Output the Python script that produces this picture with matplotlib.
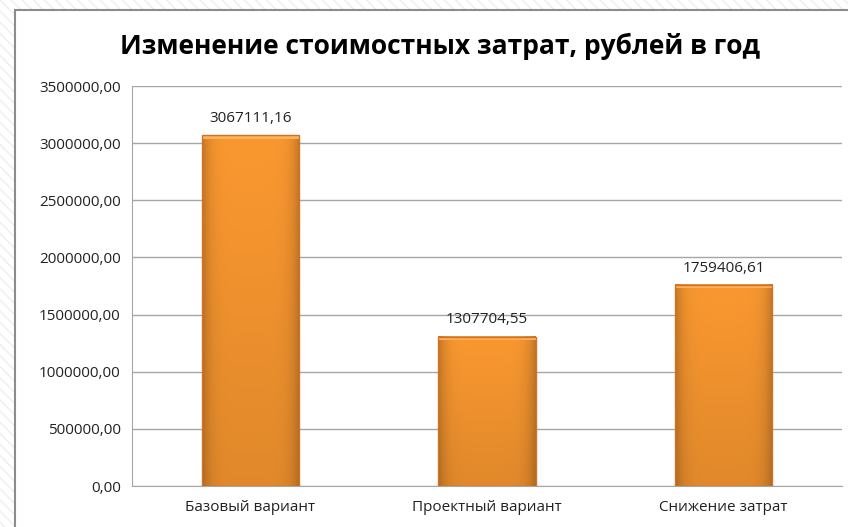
import matplotlib.pyplot as plt
from matplotlib.patches import Rectangle
import numpy as np

categories = ["Базовый вариант", "Проектный вариант", "Снижение затрат"]
values = [3067111.16, 1307704.55, 1759406.61]
y_ticks = [0, 500000, 1000000, 1500000, 2000000, 2500000, 3000000, 3500000]

plt.rcParams['font.family'] = ['Open Sans', 'DejaVu Sans']

def fmt(v):
    return ("%.2f" % v).replace(".", ",")

W, H = 848, 527
fig = plt.figure(figsize=(W / 100, H / 100), dpi=100)

# hatched backdrop and white chart box
fig.patches.append(Rectangle((0, 0), 1, 1, transform=fig.transFigure,
                             facecolor='white', edgecolor='#EEEEEE',
                             hatch='\\\\\\', linewidth=0, zorder=-3))
fig.patches.append(Rectangle((15 / W, -0.05), 1.1, 1 - 10 / H + 0.05,
                             transform=fig.transFigure, facecolor='white',
                             edgecolor='#8C8C8C', linewidth=1.5, zorder=-2))

ax = fig.add_axes([132 / W, 1 - 486 / H, 710 / W, 400 / H])
ax.set_facecolor('none')

x = np.arange(len(categories))
bars = ax.bar(x, values, width=0.41, color='#F7952F', edgecolor='none',
              linewidth=0, zorder=3)

# soft shading inside the bars: lighter top, darker bottom and edges
for b in bars:
    x0, w, h = b.get_x(), b.get_width(), b.get_height()
    t = np.linspace(0, 1, 64)
    side = 1 - 0.22 * (np.abs(t - 0.5) * 2) ** 6
    vert = np.linspace(0.9, 1.0, 32)
    base = np.array([250, 152, 48]) / 255
    img = base[None, None, :] * vert[:, None, None] * side[None, :, None]
    ax.imshow(np.clip(img, 0, 1), extent=(x0, x0 + w, 0, h), aspect='auto',
              zorder=3.5, interpolation='bilinear', origin='lower')
    ax.add_patch(Rectangle((x0, h - 30000), w, 30000, facecolor='#FBB25C',
                           edgecolor='none', zorder=3.6))
    ax.add_patch(Rectangle((x0, 0), w, h, facecolor='none',
                           edgecolor='#D17227', linewidth=1.0, zorder=3.7))
    ax.text(x0 + w / 2, h + 80000, fmt(h), ha='center', va='bottom',
            fontsize=11, color='#222222')

ax.set_xlim(-0.5, 2.5)
ax.set_ylim(0, 3500000)
ax.set_yticks(y_ticks)
ax.set_yticklabels([fmt(v) for v in y_ticks], fontsize=11, color='#222222')
ax.set_xticks(x)
ax.set_xticklabels(categories, fontsize=11, color='#222222')
ax.tick_params(axis='both', length=0, pad=8)
ax.tick_params(axis='x', pad=10)
ax.yaxis.grid(True, color='#A6A6A6', linewidth=1.0, zorder=0)
for s in ['top', 'right']:
    ax.spines[s].set_visible(False)
ax.spines['left'].set_color('#A6A6A6')
ax.spines['bottom'].set_color('#A6A6A6')

fig.text(440 / W, 1 - 46 / H, "Изменение стоимостных затрат, рублей в год",
         ha='center', va='center', fontsize=19, fontweight='bold', color='black')

fig.savefig("out.png", dpi=100)
